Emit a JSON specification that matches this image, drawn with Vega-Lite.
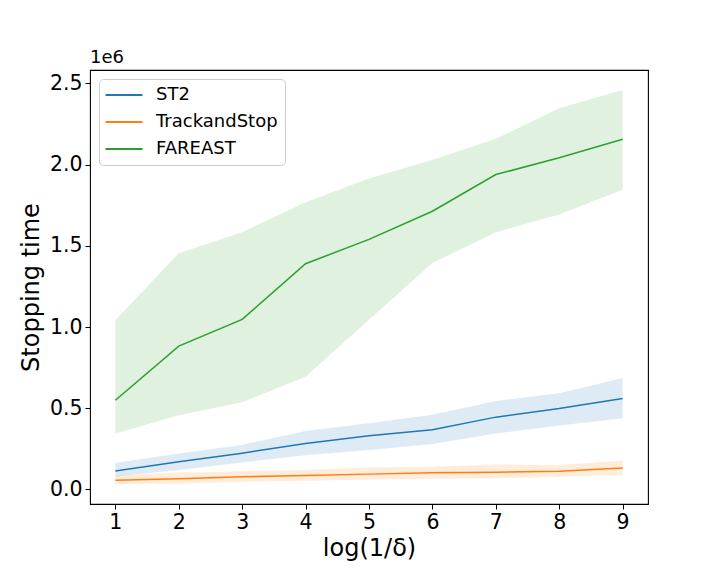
{
  "$schema": "https://vega.github.io/schema/vega-lite/v6.json",
  "autosize": "none",
  "width": 558,
  "height": 434,
  "padding": {"left": 90, "top": 70, "right": 72, "bottom": 72},
  "background": "white",
  "config": {
    "font": "DejaVu Sans",
    "view": {"stroke": "#000000", "strokeWidth": 1.1},
    "axis": {
      "grid": false,
      "domain": false,
      "tickColor": "#000000",
      "tickSize": 5,
      "tickWidth": 1,
      "labelColor": "#000000",
      "labelFontSize": 20.5,
      "labelPadding": 3,
      "titleColor": "#000000",
      "titleFontSize": 24,
      "titleFontWeight": "normal"
    },
    "legend": {
      "labelFontSize": 18,
      "labelColor": "#000000"
    }
  },
  "title": {
    "text": "1e6",
    "anchor": "start",
    "frame": "group",
    "fontSize": 18,
    "fontWeight": "normal",
    "color": "#000000",
    "offset": 3
  },
  "data": {
    "values": [
      {"series": "ST2", "x": 1, "mean": 113000, "lo": 80000, "hi": 162000},
      {"series": "ST2", "x": 2, "mean": 170000, "lo": 119000, "hi": 221000},
      {"series": "ST2", "x": 3, "mean": 223000, "lo": 166000, "hi": 274000},
      {"series": "ST2", "x": 4, "mean": 283000, "lo": 211000, "hi": 360000},
      {"series": "ST2", "x": 5, "mean": 330000, "lo": 242000, "hi": 408000},
      {"series": "ST2", "x": 6, "mean": 367000, "lo": 279000, "hi": 459000},
      {"series": "ST2", "x": 7, "mean": 445000, "lo": 344000, "hi": 545000},
      {"series": "ST2", "x": 8, "mean": 498000, "lo": 394000, "hi": 592000},
      {"series": "ST2", "x": 9, "mean": 560000, "lo": 438000, "hi": 686000},
      {"series": "TrackandStop", "x": 1, "mean": 57000, "lo": 33000, "hi": 88000},
      {"series": "TrackandStop", "x": 2, "mean": 65000, "lo": 37000, "hi": 102000},
      {"series": "TrackandStop", "x": 3, "mean": 78000, "lo": 47000, "hi": 111000},
      {"series": "TrackandStop", "x": 4, "mean": 86000, "lo": 53000, "hi": 119000},
      {"series": "TrackandStop", "x": 5, "mean": 94000, "lo": 61000, "hi": 135000},
      {"series": "TrackandStop", "x": 6, "mean": 102000, "lo": 65000, "hi": 139000},
      {"series": "TrackandStop", "x": 7, "mean": 106000, "lo": 68000, "hi": 154000},
      {"series": "TrackandStop", "x": 8, "mean": 111000, "lo": 78000, "hi": 148000},
      {"series": "TrackandStop", "x": 9, "mean": 131000, "lo": 90000, "hi": 178000},
      {"series": "FAREAST", "x": 1, "mean": 549000, "lo": 344000, "hi": 1041000},
      {"series": "FAREAST", "x": 2, "mean": 882000, "lo": 457000, "hi": 1455000},
      {"series": "FAREAST", "x": 3, "mean": 1047000, "lo": 537000, "hi": 1584000},
      {"series": "FAREAST", "x": 4, "mean": 1390000, "lo": 693000, "hi": 1769000},
      {"series": "FAREAST", "x": 5, "mean": 1540000, "lo": 1045000, "hi": 1915000},
      {"series": "FAREAST", "x": 6, "mean": 1713000, "lo": 1394000, "hi": 2029000},
      {"series": "FAREAST", "x": 7, "mean": 1939000, "lo": 1584000, "hi": 2159000},
      {"series": "FAREAST", "x": 8, "mean": 2042000, "lo": 1693000, "hi": 2347000},
      {"series": "FAREAST", "x": 9, "mean": 2156000, "lo": 1845000, "hi": 2460000}
    ]
  },
  "encoding": {
    "x": {
      "field": "x",
      "type": "quantitative",
      "scale": {"domain": [0.6, 9.4], "nice": false, "zero": false},
      "axis": {"values": [1, 2, 3, 4, 5, 6, 7, 8, 9], "title": "log(1/δ)", "titlePadding": 4, "format": "d"}
    },
    "color": {
      "field": "series",
      "type": "nominal",
      "scale": {"domain": ["ST2", "TrackandStop", "FAREAST"], "range": ["#1f77b4", "#ff7f0e", "#2ca02c"]},
      "legend": {
        "title": null,
        "orient": "top-left",
        "offset": 9,
        "padding": 7,
        "rowPadding": 9,
        "symbolType": "M-3,0H3",
        "symbolSize": 152,
        "symbolStrokeWidth": 2,
        "symbolOffset": 9,
        "labelOffset": 23,
        "strokeColor": "#cccccc",
        "fillColor": "#ffffff",
        "cornerRadius": 4
      }
    }
  },
  "layer": [
    {
      "mark": {"type": "area", "fillOpacity": 0.15},
      "encoding": {
        "y": {
          "field": "lo",
          "type": "quantitative",
          "scale": {"domain": [-90000, 2583000], "nice": false, "zero": false},
          "axis": {
            "values": [0, 500000, 1000000, 1500000, 2000000, 2500000],
            "labelExpr": "format(datum.value / 1000000, '.1f')",
            "title": "Stopping time",
            "titlePadding": 6
          }
        },
        "y2": {"field": "hi"}
      }
    },
    {
      "mark": {"type": "line", "strokeWidth": 1.5},
      "encoding": {
        "y": {"field": "mean", "type": "quantitative"}
      }
    }
  ]
}
